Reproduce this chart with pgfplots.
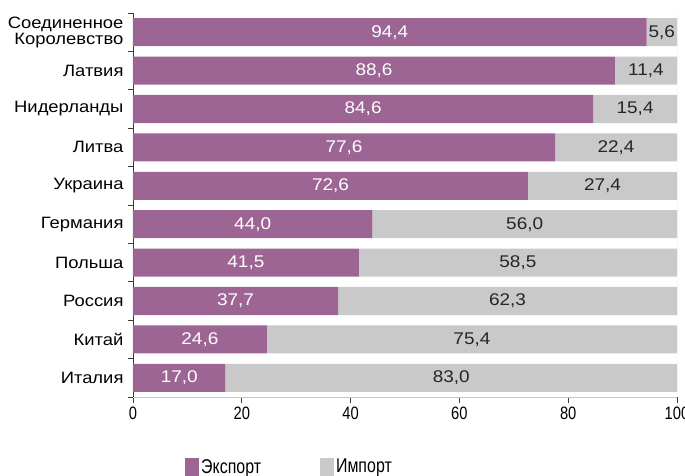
\documentclass[border=0pt]{standalone}
\usepackage{fontspec}
\setmainfont{Liberation Sans}
\newfontfamily\catfont[FakeStretch=1.12]{Liberation Sans}
\newfontfamily\tickfont[FakeStretch=0.82]{Liberation Sans}
\newfontfamily\legfont[FakeStretch=0.8]{Liberation Sans}
\usepackage{pgfplots}
\pgfplotsset{compat=1.18}
\usepackage{pgfplotstable}

\definecolor{expcol}{HTML}{9D6593}
\definecolor{impcol}{HTML}{C9C9C9}
\definecolor{axcol}{HTML}{3A3A3A}

% share of exports and imports in trade turnover, %
\pgfplotstableread{
idx exp  imp
0   94.4 5.6
1   88.6 11.4
2   84.6 15.4
3   77.6 22.4
4   72.6 27.4
5   44.0 56.0
6   41.5 58.5
7   37.7 62.3
8   24.6 75.4
9   17.0 83.0
}\trade

\begin{document}
\begin{tikzpicture}
\begin{axis}[
    scale only axis,
    width=544bp, height=384bp,
    xbar stacked, bar width=0.73,
    xmin=0, xmax=100,
    ymin=-0.5, ymax=9.5, y dir=reverse,
    axis x line*=bottom, axis y line*=left,
    axis line style={axcol, line width=0.9pt},
    every tick/.style={axcol, line width=0.9pt},
    tick align=outside,
    major tick length=6bp, minor tick length=5bp,
    xtick={0,20,...,100},
    ytick={0,...,9},
    minor ytick={-0.5,0.5,...,9.5},
    major y tick style={draw=none},
    yticklabels={{Соединенное\\Королевство},Латвия,Нидерланды,Литва,Украина,Германия,Польша,Россия,Китай,Италия},
    yticklabel style={font=\catfont\fontsize{16.5}{14}\selectfont, align=right, text=black},
    xticklabel style={font=\tickfont\fontsize{18}{18}\selectfont, text=black},
    /pgf/number format/assume math mode=true,
    point meta=explicit,
    nodes near coords={\pgfmathprintnumber[fixed, fixed zerofill, precision=1, use comma]{\pgfplotspointmeta}},
    every node near coord/.style={anchor=center, font=\catfont\fontsize{17}{17}\selectfont},
    legend columns=2,
    legend style={at={(0.0956,-0.156)}, anchor=north west, draw=none, fill=none,
        font=\legfont\fontsize{20}{20}\selectfont, inner sep=0pt,
        /tikz/every even column/.append style={column sep=57bp}},
    legend image code/.code={\fill[#1] (-3bp,-9bp) rectangle (11bp,9bp);},
]
\addplot[fill=expcol, draw=none, every node near coord/.append style={text=white}]
    table[x=exp, y=idx, meta=exp] {\trade};
\addplot[fill=impcol, draw=none, every node near coord/.append style={text=black!85}]
    table[x=imp, y=idx, meta=imp] {\trade};
\legend{Экспорт, Импорт}
\draw[black!22, line width=0.6pt] (rel axis cs:0,0) -- (rel axis cs:1,0) -- (rel axis cs:1,1);
\end{axis}
\pgfresetboundingbox
\path ([xshift=-133bp,yshift=-79bp]current axis.south west)
    rectangle ([xshift=8bp,yshift=13bp]current axis.north east);
\end{tikzpicture}
\end{document}
